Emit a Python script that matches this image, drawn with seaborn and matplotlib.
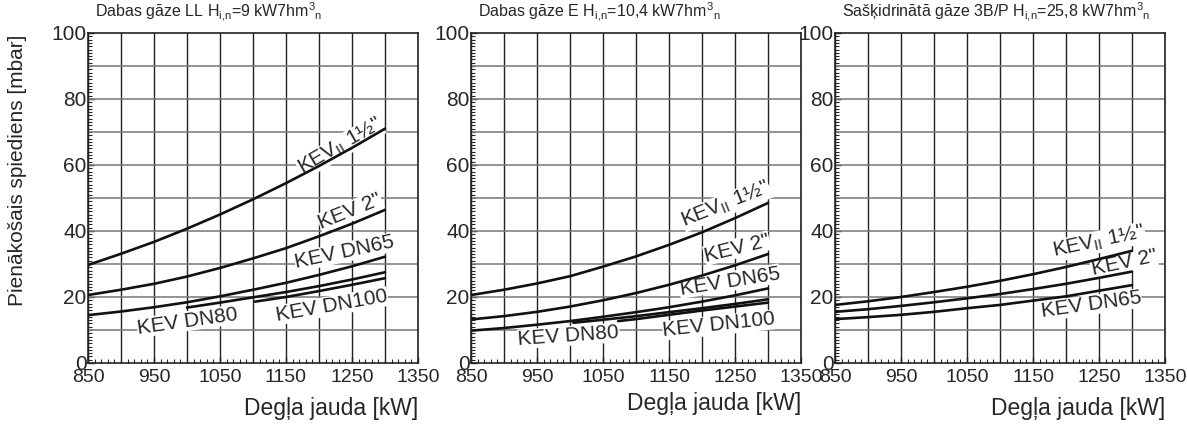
import numpy as np
import pandas as pd
import matplotlib
matplotlib.use('Agg')
import matplotlib.pyplot as plt
from matplotlib.ticker import MultipleLocator
import seaborn as sns

# values (burner power kW -> inlet pressure mbar)
power_full = [850, 900, 950, 1000, 1050, 1100, 1150, 1200, 1250, 1300]

# panel 1: Dabas gaze LL
ll_kev15 = [29.7, 33.1, 36.7, 40.7, 45.0, 49.6, 54.5, 59.7, 65.2, 71.0]
ll_kev2 = [20.6, 22.2, 24.0, 26.2, 28.8, 31.7, 34.8, 38.4, 42.2, 46.4]
ll_dn65 = [14.5, 15.6, 16.9, 18.4, 20.2, 22.2, 24.3, 26.7, 29.3, 32.2]
ll_dn80_power = [1000, 1050, 1100, 1150, 1200, 1250, 1300]
ll_dn80 = [16.8, 18.3, 19.9, 21.5, 23.3, 25.3, 27.5]
ll_dn100_power = [1103, 1150, 1200, 1250, 1300]
ll_dn100 = [18.6, 20.0, 21.8, 23.7, 25.7]

# panel 2: Dabas gaze E
e_kev15 = [20.6, 22.2, 24.1, 26.3, 29.2, 32.3, 35.8, 39.6, 43.9, 48.5]
e_kev2 = [13.2, 14.2, 15.5, 17.1, 19.0, 21.2, 23.7, 26.5, 29.6, 33.0]
e_dn65 = [9.8, 10.6, 11.6, 12.7, 14.0, 15.4, 16.9, 18.6, 20.5, 22.6]
e_dn80_power = [1005, 1050, 1100, 1150, 1200, 1250, 1300]
e_dn80 = [12.2, 13.1, 14.2, 15.4, 16.6, 17.9, 19.3]
e_dn100_power = [1073, 1100, 1150, 1200, 1250, 1300]
e_dn100 = [12.7, 13.3, 14.6, 15.9, 17.1, 18.3]

# panel 3: Saskidrinata gaze 3B/P
p_kev15 = [17.6, 18.7, 20.0, 21.5, 23.1, 24.9, 26.9, 29.1, 31.5, 34.0]
p_kev2 = [15.5, 16.3, 17.3, 18.4, 19.6, 20.9, 22.4, 24.0, 25.8, 27.7]
p_dn65 = [13.3, 13.9, 14.6, 15.5, 16.6, 17.6, 18.9, 20.2, 21.9, 23.6]

titles = [r'Dabas gāze LL H$_{\mathrm{i{,}n}}$=9 kW7hm$^{3}$$_{\mathrm{n}}$',
          r'Dabas gāze E H$_{\mathrm{i{,}n}}$=10,4 kW7hm$^{3}$$_{\mathrm{n}}$',
          r'Sašķidrinātā gāze 3B/P H$_{\mathrm{i{,}n}}$=25,8 kW7hm$^{3}$$_{\mathrm{n}}$']

lbl15 = 'KEV$_{\\mathrm{II}}$ 1½"'
lbl2 = 'KEV 2"'


def make_df(series):
    rows = []
    for name, xs, ys in series:
        for x, y in zip(xs, ys):
            rows.append({'Power': x, 'Pressure': y, 'Series': name})
    return pd.DataFrame(rows)


panels = [
    make_df([('kev15', power_full, ll_kev15), ('kev2', power_full, ll_kev2),
             ('dn65', power_full, ll_dn65), ('dn80', ll_dn80_power, ll_dn80),
             ('dn100', ll_dn100_power, ll_dn100)]),
    make_df([('kev15', power_full, e_kev15), ('kev2', power_full, e_kev2),
             ('dn65', power_full, e_dn65), ('dn80', e_dn80_power, e_dn80),
             ('dn100', e_dn100_power, e_dn100)]),
    make_df([('kev15', power_full, p_kev15), ('kev2', power_full, p_kev2),
             ('dn65', power_full, p_dn65)]),
]

# label positions (data coords) and rotation
labels = [
    [(lbl15, 1232, 65.5, 30), (lbl2, 1247, 46.0, 22), ('KEV DN65', 1239, 33.6, 12),
     ('KEV DN80', 1001, 12.7, 8), ('KEV DN100', 1219, 17.3, 10)],
    [(lbl15, 1236, 48.0, 22), (lbl2, 1253, 34.8, 14), ('KEV DN65', 1242, 24.8, 9),
     ('KEV DN80', 998, 8.2, 4), ('KEV DN100', 1226, 11.5, 6)],
    [(lbl15, 1250, 36.7, 12), (lbl2, 1288, 30.3, 12), ('KEV DN65', 1238, 17.6, 8)],
]
xlabel_y = [-0.103, -0.088, -0.103]

sns.set_style('white')
plt.rcParams['font.family'] = ['Liberation Sans', 'DejaVu Sans']
plt.rcParams['mathtext.fontset'] = 'custom'
plt.rcParams['mathtext.rm'] = 'Liberation Sans'
plt.rcParams['mathtext.it'] = 'Liberation Sans'

fig = plt.figure(figsize=(11.87, 4.25), dpi=100)
lefts = [88, 471, 835]
for i, left in enumerate(lefts):
    ax = fig.add_axes([left / 1187, 62 / 425, 330 / 1187, 330 / 425])
    sns.lineplot(data=panels[i], x='Power', y='Pressure', hue='Series', units='Series',
                 estimator=None, palette=['#111111'] * panels[i]['Series'].nunique(),
                 linewidth=1.9, legend=False, ax=ax, zorder=4)
    ax.set_xlim(850, 1350)
    ax.set_ylim(0, 100)
    ax.set_xticks([850, 950, 1050, 1150, 1250, 1350])
    ax.set_yticks([0, 20, 40, 60, 80, 100])
    ax.xaxis.set_minor_locator(MultipleLocator(10))
    ax.yaxis.set_minor_locator(MultipleLocator(1))
    for v in range(850, 1351, 50):
        ax.axvline(v, color='#222222', linewidth=1.0, zorder=1)
    for h in range(10, 100, 10):
        ax.axhline(h, color='#777777', linewidth=1.1, zorder=1)
    ax.tick_params(axis='both', which='major', direction='in', length=4, width=1,
                   left=True, bottom=True)
    ax.tick_params(axis='x', which='major', labelsize=14, pad=4)
    ax.tick_params(axis='y', which='major', labelsize=15, pad=1)
    ax.tick_params(axis='both', which='minor', direction='in', length=3, width=0.8,
                   left=True, bottom=True)
    for sp in ax.spines.values():
        sp.set_color('#222222')
        sp.set_linewidth(1.2)
    ax.set_xlabel('')
    ax.set_ylabel('')
    ax.text(0.02, 1.03, titles[i], transform=ax.transAxes, fontsize=11.5,
            ha='left', va='bottom')
    ax.text(1.0, xlabel_y[i], 'Degļa jauda [kW]', transform=ax.transAxes, fontsize=16.5,
            ha='right', va='top')
    for txt, x, y, rot in labels[i]:
        ax.text(x, y, txt, fontsize=15, rotation=rot, ha='center', va='center',
                rotation_mode='anchor', zorder=3,
                bbox=dict(boxstyle='square,pad=0.02', facecolor='white', edgecolor='none'))

fig.text(18 / 1187, 1 - 170 / 425, 'Pienākošais spiediens [mbar]', rotation=90,
         fontsize=15, ha='center', va='center')

fig.savefig('out.png', dpi=100)
